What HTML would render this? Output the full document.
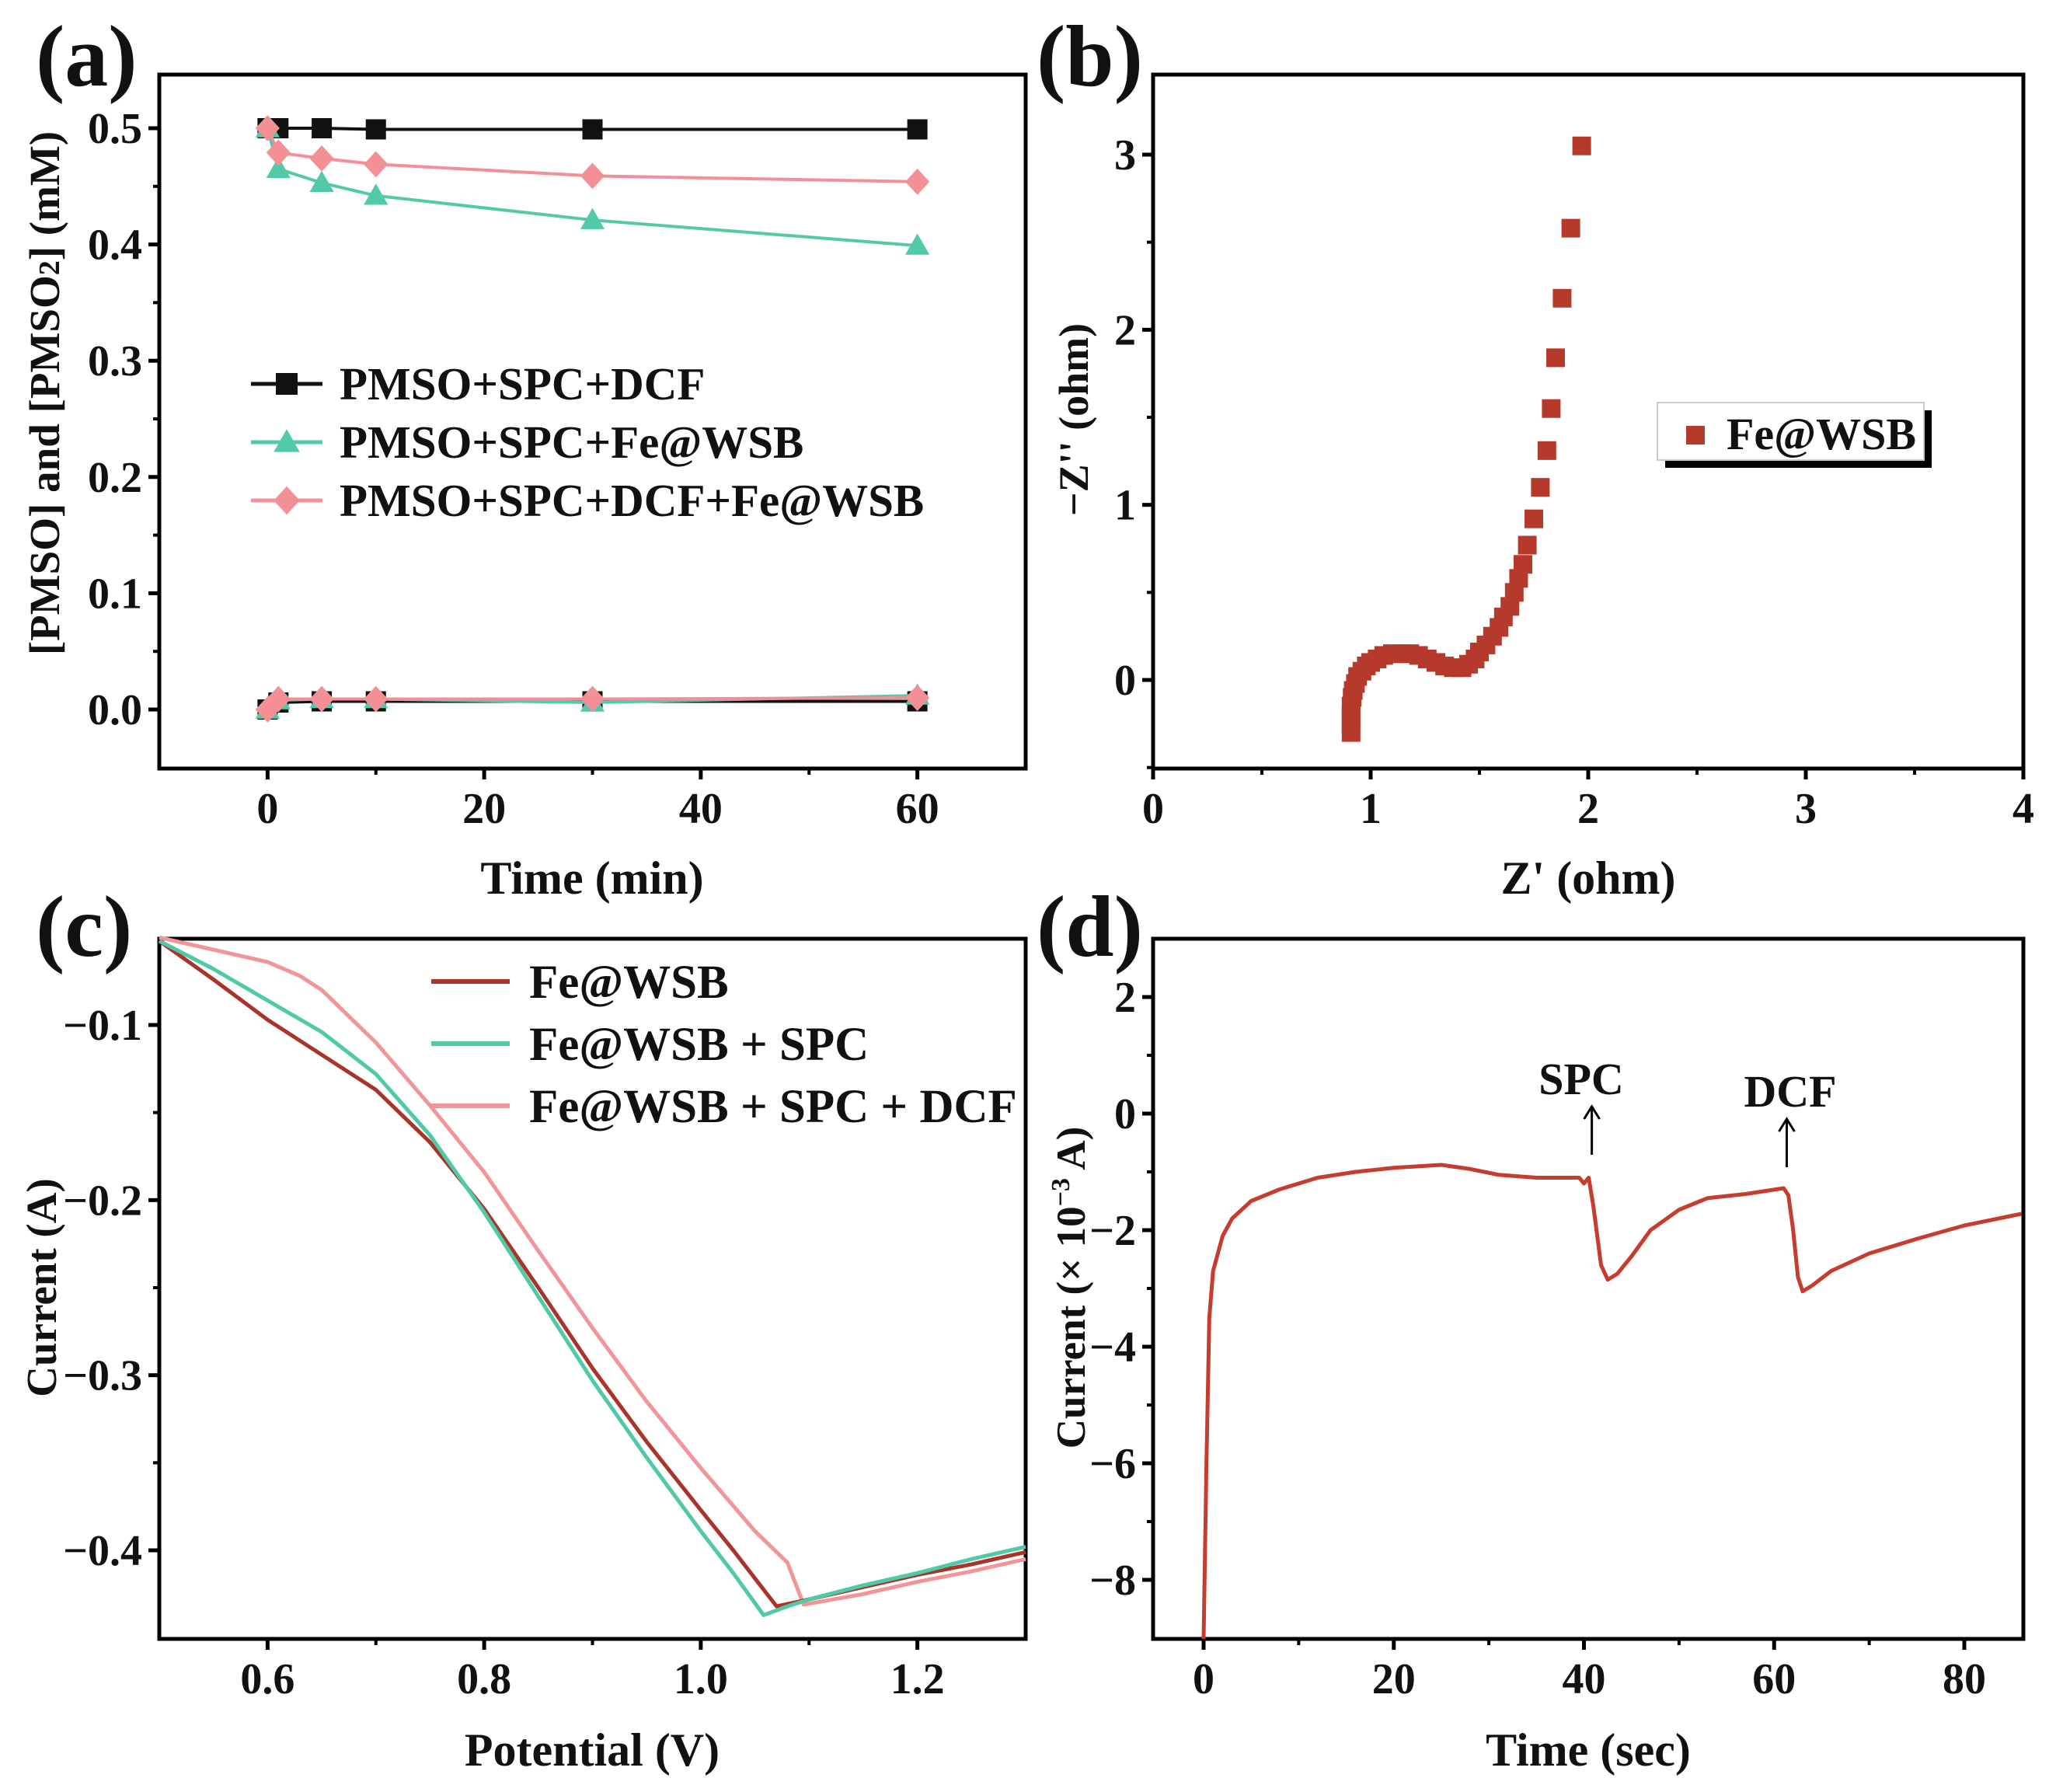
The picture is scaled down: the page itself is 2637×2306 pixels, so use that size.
<!DOCTYPE html>
<html><head><meta charset="utf-8"><style>
html,body{margin:0;padding:0;background:#fff}
svg{display:block}
text{font-family:"Liberation Serif",serif;font-weight:bold;fill:#111}
</style></head><body>
<svg id="fig" xmlns="http://www.w3.org/2000/svg" width="2637" height="2306" viewBox="0 0 2637 2306"></svg>
<script>
// ---- Panel a data ----
const aTimes = [0, 1, 5, 10, 30, 60];
const aBlack = [0.5, 0.5, 0.5, 0.499, 0.499, 0.499];
const aTeal = [0.5, 0.465, 0.453, 0.442, 0.421, 0.399];
const aPink = [0.5, 0.479, 0.474, 0.469, 0.459, 0.454];
const aBlackLow = [0, 0.006, 0.007, 0.007, 0.007, 0.007];
const aTealLow = [0, 0.008, 0.009, 0.009, 0.006, 0.012];
const aPinkLow = [0, 0.009, 0.009, 0.009, 0.009, 0.010];
const aXTicks = [0, 20, 40, 60];
const aYTicks = [0.0, 0.1, 0.2, 0.3, 0.4, 0.5];
const aLegend = ["PMSO+SPC+DCF", "PMSO+SPC+Fe@WSB", "PMSO+SPC+DCF+Fe@WSB"];
// ---- Panel b data ----
const bZre = [0.91,0.91,0.91,0.91,0.915,0.92,0.93,0.94,0.96,0.98,1.0,1.03,1.06,1.1,1.14,1.18,1.22,1.26,1.3,1.34,1.38,1.42,1.45,1.48,1.5,1.53,1.56,1.59,1.61,1.64,1.66,1.68,1.70,1.72,1.75,1.78,1.81,1.83,1.85,1.88,1.92,1.97];
const bZim = [-0.3,-0.25,-0.2,-0.15,-0.1,-0.06,-0.02,0.02,0.05,0.08,0.1,0.12,0.14,0.15,0.15,0.15,0.14,0.12,0.1,0.08,0.07,0.07,0.09,0.12,0.16,0.2,0.25,0.3,0.36,0.42,0.5,0.58,0.66,0.77,0.92,1.1,1.31,1.55,1.84,2.18,2.58,3.05];
const bXTicks = [0, 1, 2, 3, 4];
const bYTicks = [0, 1, 2, 3];
// ---- Panel c data ----
const cV = [0.5,0.55,0.6,0.65,0.7,0.75,0.8,0.85,0.9,0.95,1.0,1.03,1.05,1.07,1.1,1.15,1.2,1.25,1.3];
const cFe = [-0.052,-0.074,-0.097,-0.117,-0.137,-0.167,-0.205,-0.25,-0.296,-0.338,-0.377,-0.400,-0.416,-0.432,-0.428,-0.421,-0.414,-0.408,-0.401];
const cFeSpcV = [0.5,0.55,0.6,0.65,0.7,0.75,0.8,0.85,0.9,0.95,1.0,1.03,1.058,1.08,1.1,1.15,1.2,1.25,1.3];
const cFeSpc = [-0.052,-0.068,-0.086,-0.104,-0.128,-0.163,-0.207,-0.255,-0.303,-0.347,-0.389,-0.413,-0.437,-0.432,-0.428,-0.420,-0.413,-0.405,-0.398];
const cAllV = [0.5,0.55,0.6,0.63,0.65,0.7,0.75,0.8,0.85,0.9,0.95,1.0,1.05,1.08,1.095,1.15,1.2,1.25,1.3];
const cAll = [-0.050,-0.057,-0.064,-0.072,-0.080,-0.110,-0.146,-0.184,-0.229,-0.273,-0.315,-0.353,-0.389,-0.407,-0.431,-0.425,-0.418,-0.412,-0.405];
const cXTicks = [0.6, 0.8, 1.0, 1.2];
const cYTicks = [-0.1, -0.2, -0.3, -0.4];
const cLegend = ["Fe@WSB", "Fe@WSB + SPC", "Fe@WSB + SPC  + DCF"];
// ---- Panel d data ----
const dT = [0,0.3,0.6,1,2,3,5,8,12,16,20,25,28,31,35,39.5,40,40.5,41,41.8,42.5,43.5,45,47,50,53,57,61,61.5,62,62.5,63,64,66,70,75,80,86];
const dI = [-9.1,-6,-3.5,-2.7,-2.1,-1.8,-1.5,-1.3,-1.1,-1.0,-0.93,-0.88,-0.95,-1.05,-1.1,-1.1,-1.2,-1.1,-1.6,-2.6,-2.85,-2.75,-2.45,-2.0,-1.65,-1.45,-1.38,-1.28,-1.4,-2.0,-2.8,-3.05,-2.95,-2.7,-2.4,-2.15,-1.92,-1.72];
const dXTicks = [0, 20, 40, 60, 80];
const dYTicks = [2, 0, -2, -4, -6, -8];

const NS = "http://www.w3.org/2000/svg";
const svg = document.getElementById("fig");
function el(tag, attrs, parent, txt) {
  const e = document.createElementNS(NS, tag);
  for (const k in attrs) e.setAttribute(k, attrs[k]);
  if (txt !== undefined) e.textContent = txt;
  (parent || svg).appendChild(e);
  return e;
}
function lin(d0, d1, r0, r1) { return v => r0 + (v - d0) * (r1 - r0) / (d1 - d0); }

function frame(name, x0, y0, x1, y1, sx, sy, xt, yt, xfmt, yfmt, minorX, minorY) {
  const g = el("g", {});
  
  
  const r = el("rect", {x: x0, y: y0, width: x1 - x0, height: y1 - y0, fill: "none", stroke: "#000", "stroke-width": 5}, g);
  
  
  xt.forEach(v => {
    const x = sx(v);
    el("line", {x1: x, y1: y1, x2: x, y2: y1 + 14, stroke: "#000", "stroke-width": 5}, g);
    const t = el("text", {x: x, y: y1 + 70, "text-anchor": "middle", "font-size": 56}, g, xfmt(v));
    
    
  });
  minorX.forEach(v => { const x = sx(v); el("line", {x1: x, y1: y1, x2: x, y2: y1 + 8, stroke: "#000", "stroke-width": 4}, g); });
  yt.forEach(v => {
    const y = sy(v);
    el("line", {x1: x0, y1: y, x2: x0 - 14, y2: y, stroke: "#000", "stroke-width": 5}, g);
    const t = el("text", {x: x0 - 22, y: y + 19, "text-anchor": "end", "font-size": 56}, g, yfmt(v));
    
    
  });
  minorY.forEach(v => { const y = sy(v); el("line", {x1: x0, y1: y, x2: x0 - 8, y2: y, stroke: "#000", "stroke-width": 4}, g); });
}
function mk(type, x, y, s, color, parent) {
  let e;
  if (type === "sq") e = el("rect", {x: x - s/2, y: y - s/2, width: s, height: s, fill: color}, parent);
  else if (type === "tri") e = el("polygon", {points: `${x},${y - s*0.6} ${x - s*0.6},${y + s*0.45} ${x + s*0.6},${y + s*0.45}`, fill: color}, parent);
  else if (type === "dia") e = el("polygon", {points: `${x},${y - s*0.65} ${x + s*0.6},${y} ${x},${y + s*0.65} ${x - s*0.6},${y}`, fill: color}, parent);
  else e = el("circle", {cx: x, cy: y, r: s/2, fill: color}, parent);
  return e;
}
const minus = v => (v < 0 ? "\u2212" : "") + Math.abs(v);

// ===== Panel (a) =====
{
  const sx = lin(-10, 70, 205, 1320), sy = lin(0, 0.5, 913, 165);
  frame("panel-a", 205, 96, 1320, 989, sx, sy, aXTicks, aYTicks, v => String(v), v => v.toFixed(1), [10, 30, 50], [0.05, 0.15, 0.25, 0.35, 0.45]);
  const series = [
    {n: "pmso-spc-dcf", y: aBlack, low: aBlackLow, c: "#111", m: "sq"},
    {n: "pmso-spc-fewsb", y: aTeal, low: aTealLow, c: "#52c9a8", m: "tri"},
    {n: "pmso-spc-dcf-fewsb", y: aPink, low: aPinkLow, c: "#f29095", m: "dia"}
  ];
  series.forEach(s => {
    [s.y, s.low].forEach((arr, k) => {
      const g = el("g", {});
      
      
      el("polyline", {points: aTimes.map((t, i) => sx(t) + "," + sy(arr[i])).join(" "), fill: "none", stroke: s.c, "stroke-width": 4}, g);
      aTimes.forEach((t, i) => {
        const p = mk(s.m, sx(t), sy(arr[i]), 26, s.c, g);
        
        
      });
    });
  });
  const leg = el("g", {});
  
  
  series.forEach((s, i) => {
    const y = 494 + i * 75;
    const le = el("g", {}, leg);
    
    
    el("line", {x1: 323, y1: y, x2: 415, y2: y, stroke: s.c, "stroke-width": 5}, le);
    mk(s.m, 369, y, 28, s.c, le);
    el("text", {x: 437, y: y + 20, "font-size": 59}, le, aLegend[i]);
  });
  const xt = el("text", {x: 762, y: 1150, "text-anchor": "middle", "font-size": 60}, svg, "Time (min)");
   
  const yt = el("text", {x: 0, y: 0, "text-anchor": "middle", "font-size": 55, transform: "translate(76,506) rotate(-90)"}, svg);
  yt.innerHTML = '[PMSO] and [PMSO<tspan font-size="38">2</tspan>] (mM)';
   
  const pl = el("text", {x: 46, y: 110, "font-size": 112}, svg, "(a)");
   
}

// ===== Panel (b) =====
{
  const sx = lin(0, 4, 1484, 2604), sy = lin(0, 3, 875, 199);
  frame("panel-b", 1484, 96, 2604, 989, sx, sy, bXTicks, bYTicks, v => String(v), v => String(v), [0.5, 1.5, 2.5, 3.5], [-0.5, 0.5, 1.5, 2.5]);
  const g = el("g", {});
  
  
  bZre.forEach((x, i) => {
    const p = mk("sq", sx(x), sy(bZim[i]), 24, "#b63a2c", g);
    
    
  });
  const leg = el("g", {});
  
  
  el("rect", {x: 2143, y: 528, width: 343, height: 74, fill: "#000"}, leg);
  el("rect", {x: 2133, y: 518, width: 343, height: 74, fill: "#fff", stroke: "#ccc", "stroke-width": 2}, leg);
  mk("sq", 2182, 560, 24, "#b63a2c", leg);
  el("text", {x: 2222, y: 578, "font-size": 58}, leg, "Fe@WSB");
  const xt = el("text", {x: 2044, y: 1150, "text-anchor": "middle", "font-size": 60}, svg, "Z' (ohm)");
   
  const yt = el("text", {x: 0, y: 0, "text-anchor": "middle", "font-size": 54, transform: "translate(1400,540) rotate(-90)"}, svg, "\u2212Z'' (ohm)");
   
  const pl = el("text", {x: 1334, y: 110, "font-size": 112}, svg, "(b)");
   
}

// ===== Panel (c) =====
{
  const sx = lin(0.5, 1.3, 205, 1320), sy = lin(-0.1, -0.4, 1319, 1995);
  frame("panel-c", 205, 1208, 1320, 2109, sx, sy, cXTicks, cYTicks, v => v.toFixed(1), v => minus(v.toFixed(1)), [0.7, 0.9, 1.1], [-0.15, -0.25, -0.35]);
  const series = [
    {n: "fewsb", x: cV, y: cFe, c: "#a8342a"},
    {n: "fewsb-spc", x: cFeSpcV, y: cFeSpc, c: "#4fc9a6"},
    {n: "fewsb-spc-dcf", x: cAllV, y: cAll, c: "#f29598"}
  ];
  [series[2], series[0], series[1]].forEach(s => {
    const p = el("polyline", {points: s.x.map((v, i) => sx(v) + "," + sy(s.y[i])).join(" "), fill: "none", stroke: s.c, "stroke-width": 5, "stroke-linejoin": "round"});
    
    
  });
  const leg = el("g", {});
  
  
  series.forEach((s, i) => {
    const y = 1263 + i * 80;
    const le = el("g", {}, leg);
    
    
    el("line", {x1: 555, y1: y, x2: 656, y2: y, stroke: s.c, "stroke-width": 6}, le);
    el("text", {x: 681, y: y + 21, "font-size": 61}, le, cLegend[i]);
  });
  const xt = el("text", {x: 762, y: 2272, "text-anchor": "middle", "font-size": 60}, svg, "Potential (V)");
   
  const yt = el("text", {x: 0, y: 0, "text-anchor": "middle", "font-size": 55, transform: "translate(72,1657) rotate(-90)"}, svg, "Current (A)");
   
  const pl = el("text", {x: 46, y: 1230, "font-size": 112}, svg, "(c)");
   
}

// ===== Panel (d) =====
{
  const sx = lin(0, 80, 1549, 2528), sy = lin(2, -8, 1283, 2033);
  frame("panel-d", 1484, 1208, 2604, 2109, sx, sy, dXTicks, dYTicks, v => String(v), v => minus(v), [10, 30, 50, 70], [1, -1, -3, -5, -7]);
  const p = el("polyline", {points: dT.map((t, i) => sx(t) + "," + Math.min(2109, sy(dI[i]))).join(" "), fill: "none", stroke: "#c63c2e", "stroke-width": 5, "stroke-linejoin": "round"});
  
  
  const ann = [["SPC", 40.5, 2035, 1408], ["DCF", 61, 2304, 1424]];
  ann.forEach(a => {
    const g = el("g", {});
    
    
    el("text", {x: a[2], y: a[3], "text-anchor": "middle", "font-size": 58}, g, a[0]);
    const ax = sx(a[1]) + 4;
    el("line", {x1: ax, y1: a[3] + 78, x2: ax, y2: a[3] + 16, stroke: "#000", "stroke-width": 3}, g);
    el("polyline", {points: `${ax - 10},${a[3] + 32} ${ax},${a[3] + 16} ${ax + 10},${a[3] + 32}`, fill: "none", stroke: "#000", "stroke-width": 3}, g);
  });
  const xt = el("text", {x: 2044, y: 2272, "text-anchor": "middle", "font-size": 60}, svg, "Time (sec)");
   
  const yt = el("text", {x: 0, y: 0, "text-anchor": "middle", "font-size": 53, transform: "translate(1396,1657) rotate(-90)"}, svg);
  yt.innerHTML = 'Current (\u00d7 10<tspan font-size="34" dy="-20">\u22123</tspan><tspan dy="20"> A)</tspan>';
   
  const pl = el("text", {x: 1334, y: 1230, "font-size": 112}, svg, "(d)");
   
}
</script>
</body></html>
